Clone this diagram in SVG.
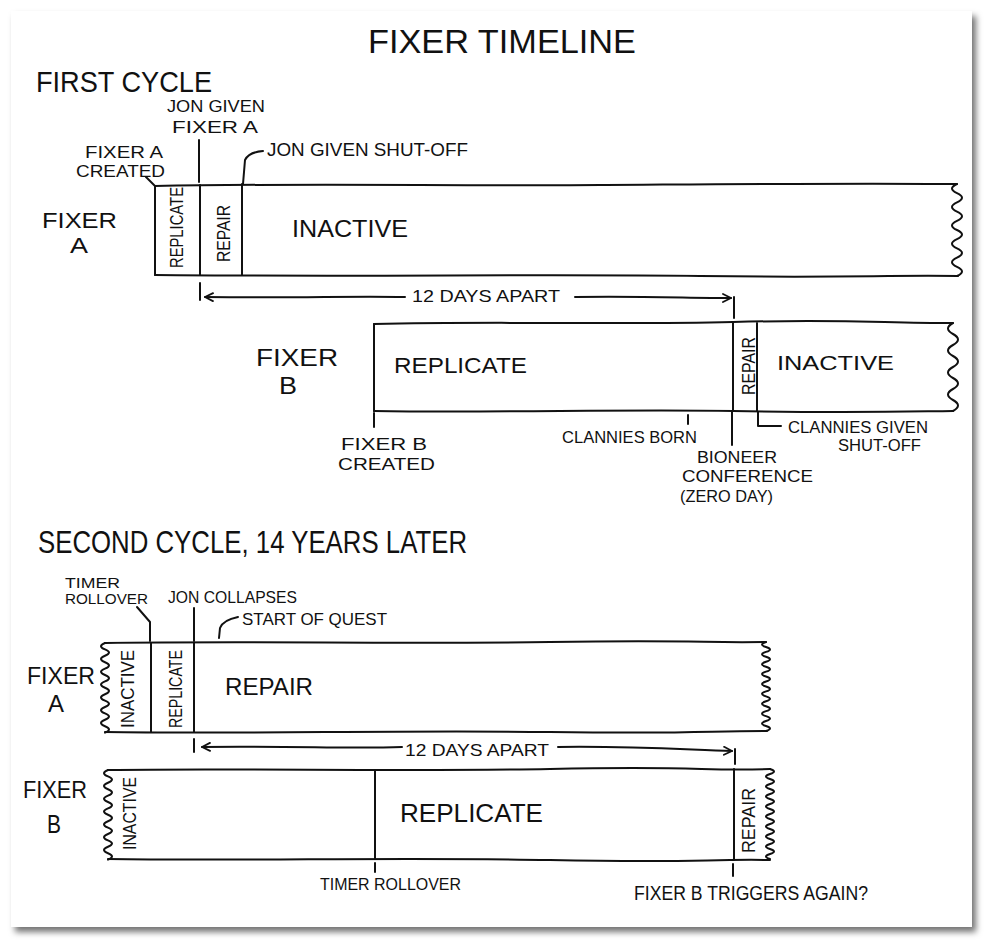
<svg xmlns="http://www.w3.org/2000/svg" width="989" height="947" viewBox="0 0 989 947">
<defs>
<filter id="sh" x="-5%" y="-5%" width="110%" height="110%">
<feDropShadow dx="4" dy="5" stdDeviation="3" flood-color="#000" flood-opacity="0.55"/>
</filter>
<marker id="ah" viewBox="0 0 10 10" refX="9" refY="5" markerWidth="10" markerHeight="10" markerUnits="userSpaceOnUse" orient="auto-start-reverse">
<path d="M1,1 L9,5 L1,9" fill="none" stroke="#111" stroke-width="1.8" stroke-linecap="round" stroke-linejoin="round"/>
</marker>
<style>
.ln{fill:none;stroke:#111;stroke-width:2;stroke-linecap:round;stroke-linejoin:round}
.t{font-family:"Liberation Sans",Arial,sans-serif;fill:#111}
</style>
</defs>
<rect x="0" y="0" width="989" height="947" fill="#fff"/>
<rect x="11" y="11" width="961" height="916" fill="#fff" filter="url(#sh)"/>

<g id="title">
<text class="t" x="368" y="53" font-size="34" textLength="268" lengthAdjust="spacingAndGlyphs">FIXER TIMELINE</text>
</g>
<g id="first-cycle-heading">
<text class="t" x="36" y="92" font-size="29" textLength="176" lengthAdjust="spacingAndGlyphs">FIRST CYCLE</text>
</g>

<g id="c1-fixerA">
<text class="t" x="42" y="228" font-size="22" textLength="75" lengthAdjust="spacingAndGlyphs">FIXER</text>
<text class="t" x="70" y="253" font-size="22" textLength="18" lengthAdjust="spacingAndGlyphs">A</text>
<path class="ln" d="M155,186 C300,183 450,186 600,185 S850,183 957,184"/>
<path class="ln" d="M155,275 C350,277 550,274 700,276 S880,275 958,276"/>
<path class="ln" d="M155,186 V275"/>
<path class="ln" d="M957,184 q-10 4.6 0 9.2 q10 4.6 0 9.2 q-10 4.6 0 9.2 q10 4.6 0 9.2 q-10 4.6 0 9.2 q10 4.6 0 9.2 q-10 4.6 0 9.2 q10 4.6 0 9.2 q-10 4.6 0 9.2 q10 4.6 0 9.2"/>
<path class="ln" d="M200,185 V275 M242,184 V275"/>
<text class="t" transform="translate(183,268) rotate(-90)" font-size="19" textLength="81" lengthAdjust="spacingAndGlyphs">REPLICATE</text>
<text class="t" transform="translate(230,262) rotate(-90)" font-size="19" textLength="57" lengthAdjust="spacingAndGlyphs">REPAIR</text>
<text class="t" x="292" y="237" font-size="24" textLength="116" lengthAdjust="spacingAndGlyphs">INACTIVE</text>
</g>

<g id="c1-fixerB">
<text class="t" x="256" y="366" font-size="24" textLength="82" lengthAdjust="spacingAndGlyphs">FIXER</text>
<text class="t" x="279" y="394" font-size="24" textLength="18" lengthAdjust="spacingAndGlyphs">B</text>
<path class="ln" d="M374,324 C500,321 620,325 733,322 S880,323 953,323"/>
<path class="ln" d="M374,411 C500,413 620,409 733,411 S880,412 953,411"/>
<path class="ln" d="M374,324 V411"/>
<path class="ln" d="M953,323 q-10 5.5 0 11 q10 5.5 0 11 q-10 5.5 0 11 q10 5.5 0 11 q-10 5.5 0 11 q10 5.5 0 11 q-10 5.5 0 11 q10 5.5 0 11"/>
<path class="ln" d="M733,322 V411 M757,323 V411"/>
<text class="t" x="394" y="373" font-size="22" textLength="133" lengthAdjust="spacingAndGlyphs">REPLICATE</text>
<text class="t" transform="translate(755,395) rotate(-90)" font-size="18" textLength="58" lengthAdjust="spacingAndGlyphs">REPAIR</text>
<text class="t" x="777" y="370" font-size="20" textLength="117" lengthAdjust="spacingAndGlyphs">INACTIVE</text>
</g>

<g id="c1-labels">
<text class="t" x="167" y="112" font-size="17" textLength="98" lengthAdjust="spacingAndGlyphs">JON GIVEN</text>
<text class="t" x="172" y="133" font-size="17" textLength="86" lengthAdjust="spacingAndGlyphs">FIXER A</text>
<text class="t" x="85" y="158" font-size="16" textLength="78" lengthAdjust="spacingAndGlyphs">FIXER A</text>
<text class="t" x="76" y="177" font-size="16" textLength="89" lengthAdjust="spacingAndGlyphs">CREATED</text>
<text class="t" x="267" y="156" font-size="18" textLength="201" lengthAdjust="spacingAndGlyphs">JON GIVEN  SHUT-OFF</text>
<text class="t" x="412" y="302" font-size="17" textLength="148" lengthAdjust="spacingAndGlyphs">12 DAYS APART</text>
<text class="t" x="341" y="450" font-size="17" textLength="86" lengthAdjust="spacingAndGlyphs">FIXER B</text>
<text class="t" x="338" y="470" font-size="17" textLength="97" lengthAdjust="spacingAndGlyphs">CREATED</text>
<text class="t" x="562" y="443" font-size="17" textLength="135" lengthAdjust="spacingAndGlyphs">CLANNIES BORN</text>
<text class="t" x="697" y="463" font-size="16" textLength="80" lengthAdjust="spacingAndGlyphs">BIONEER</text>
<text class="t" x="682" y="482" font-size="16" textLength="131" lengthAdjust="spacingAndGlyphs">CONFERENCE</text>
<text class="t" x="680" y="502" font-size="16" textLength="93" lengthAdjust="spacingAndGlyphs">(ZERO DAY)</text>
<text class="t" x="788" y="433" font-size="16" textLength="140" lengthAdjust="spacingAndGlyphs">CLANNIES GIVEN</text>
<text class="t" x="838" y="451" font-size="16" textLength="83" lengthAdjust="spacingAndGlyphs">SHUT-OFF</text>
</g>

<g id="second-cycle-heading">
<text class="t" x="38" y="553" font-size="32" textLength="429" lengthAdjust="spacingAndGlyphs">SECOND CYCLE, 14 YEARS LATER</text>
</g>

<g id="c2-fixerA">
<text class="t" x="27" y="684" font-size="23" textLength="68" lengthAdjust="spacingAndGlyphs">FIXER</text>
<text class="t" x="48" y="712" font-size="23" textLength="16" lengthAdjust="spacingAndGlyphs">A</text>
<path class="ln" d="M105,643 C250,641 400,644 550,642 S700,643 766,642"/>
<path class="ln" d="M105,732 C250,734 400,730 550,732 S700,731 767,731"/>
<path class="ln" d="M105,643 q-8 3.2 0 6.4 q8 3.2 0 6.4 q-8 3.2 0 6.4 q8 3.2 0 6.4 q-8 3.2 0 6.4 q8 3.2 0 6.4 q-8 3.2 0 6.4 q8 3.2 0 6.4 q-8 3.2 0 6.4 q8 3.2 0 6.4 q-8 3.2 0 6.4 q8 3.2 0 6.4 q-8 3.2 0 6.4 q8 3.2 0 6.4"/>
<path class="ln" d="M766,642 q-8 2.47 0 4.94 q8 2.47 0 4.94 q-8 2.47 0 4.94 q8 2.47 0 4.94 q-8 2.47 0 4.94 q8 2.47 0 4.94 q-8 2.47 0 4.94 q8 2.47 0 4.94 q-8 2.47 0 4.94 q8 2.47 0 4.94 q-8 2.47 0 4.94 q8 2.47 0 4.94 q-8 2.47 0 4.94 q8 2.47 0 4.94 q-8 2.47 0 4.94 q8 2.47 0 4.94 q-8 2.47 0 4.94 q8 2.47 0 4.94"/>
<path class="ln" d="M151,643 V732 M194,643 V732"/>
<text class="t" transform="translate(134,728) rotate(-90)" font-size="18" textLength="78" lengthAdjust="spacingAndGlyphs">INACTIVE</text>
<text class="t" transform="translate(182,728) rotate(-90)" font-size="19" textLength="78" lengthAdjust="spacingAndGlyphs">REPLICATE</text>
<text class="t" x="225" y="695" font-size="24" textLength="88" lengthAdjust="spacingAndGlyphs">REPAIR</text>
</g>

<g id="c2-fixerB">
<text class="t" x="23" y="798" font-size="23" textLength="64" lengthAdjust="spacingAndGlyphs">FIXER</text>
<text class="t" x="47" y="833" font-size="25" textLength="14" lengthAdjust="spacingAndGlyphs">B</text>
<path class="ln" d="M108,770 C250,768 400,772 550,769 S700,771 770,769"/>
<path class="ln" d="M108,859 C250,861 400,857 550,860 S700,859 770,860"/>
<path class="ln" d="M108,770 q-8 3.2 0 6.4 q8 3.2 0 6.4 q-8 3.2 0 6.4 q8 3.2 0 6.4 q-8 3.2 0 6.4 q8 3.2 0 6.4 q-8 3.2 0 6.4 q8 3.2 0 6.4 q-8 3.2 0 6.4 q8 3.2 0 6.4 q-8 3.2 0 6.4 q8 3.2 0 6.4 q-8 3.2 0 6.4 q8 3.2 0 6.4"/>
<path class="ln" d="M770,769 q8 2.5 0 5 q-8 2.5 0 5 q8 2.5 0 5 q-8 2.5 0 5 q8 2.5 0 5 q-8 2.5 0 5 q8 2.5 0 5 q-8 2.5 0 5 q8 2.5 0 5 q-8 2.5 0 5 q8 2.5 0 5 q-8 2.5 0 5 q8 2.5 0 5 q-8 2.5 0 5 q8 2.5 0 5 q-8 2.5 0 5 q8 2.5 0 5 q-8 2.5 0 5"/>
<path class="ln" d="M375,770 V859 M734,769 V860"/>
<text class="t" transform="translate(136,850) rotate(-90)" font-size="18" textLength="73" lengthAdjust="spacingAndGlyphs">INACTIVE</text>
<text class="t" x="400" y="822" font-size="25" textLength="143" lengthAdjust="spacingAndGlyphs">REPLICATE</text>
<text class="t" transform="translate(755,853) rotate(-90)" font-size="18" textLength="65" lengthAdjust="spacingAndGlyphs">REPAIR</text>
</g>

<g id="c2-labels">
<text class="t" x="65" y="588" font-size="14" textLength="55" lengthAdjust="spacingAndGlyphs">TIMER</text>
<text class="t" x="65" y="604" font-size="14" textLength="83" lengthAdjust="spacingAndGlyphs">ROLLOVER</text>
<text class="t" x="168" y="603" font-size="17" textLength="129" lengthAdjust="spacingAndGlyphs">JON COLLAPSES</text>
<text class="t" x="242" y="625" font-size="17" textLength="145" lengthAdjust="spacingAndGlyphs">START OF QUEST</text>
<text class="t" x="405" y="756" font-size="17" textLength="144" lengthAdjust="spacingAndGlyphs">12 DAYS APART</text>
<text class="t" x="320" y="890" font-size="16" textLength="141" lengthAdjust="spacingAndGlyphs">TIMER ROLLOVER</text>
<text class="t" x="634" y="900" font-size="20" textLength="234" lengthAdjust="spacingAndGlyphs">FIXER B TRIGGERS AGAIN?</text>
</g>

<g id="connectors">
<path class="ln" d="M146,177 L155,186"/>
<path class="ln" d="M199,140 V182"/>
<path class="ln" d="M263,151 Q249,152 245,160 L243,184"/>
<path class="ln" d="M200,283 V300"/>
<path class="ln" d="M205,297 C300,298 350,296 405,297" marker-start="url(#ah)"/>
<path class="ln" d="M575,297 C640,296 690,298 731,298" marker-end="url(#ah)"/>
<path class="ln" d="M734,297 V318"/>
<path class="ln" d="M374,413 V427"/>
<path class="ln" d="M688,415 V424"/>
<path class="ln" d="M732,411 V445"/>
<path class="ln" d="M758,412 V426 H781"/>
<path class="ln" d="M137,607 L150,622 V641"/>
<path class="ln" d="M194,608 V641"/>
<path class="ln" d="M238,617 Q223,620 220,628 L219,638"/>
<path class="ln" d="M194,739 V752"/>
<path class="ln" d="M202,747 C300,746 350,749 402,747" marker-start="url(#ah)"/>
<path class="ln" d="M558,747 C640,746 690,750 732,751" marker-end="url(#ah)"/>
<path class="ln" d="M735,749 V764"/>
<path class="ln" d="M375,863 V872"/>
<path class="ln" d="M733,864 V876"/>
</g>
</svg>
